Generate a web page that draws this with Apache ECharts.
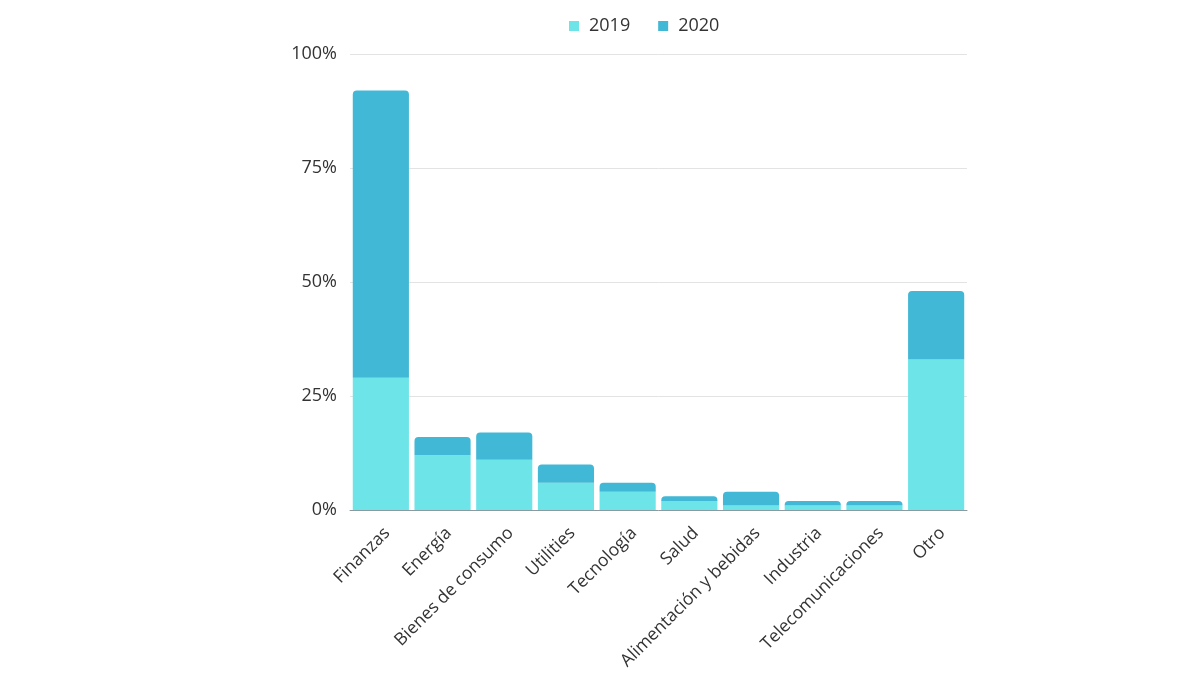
<!DOCTYPE html>
<html><head><meta charset="utf-8">
<script src="https://cdn.jsdelivr.net/npm/echarts@6/dist/echarts.min.js"></script>
<style>html,body{margin:0;padding:0;background:#fff}#c{width:1200px;height:675px}</style>
</head><body><div id="c"></div>
<script>
const categories = ["Finanzas","Energía","Bienes de consumo","Utilities","Tecnología","Salud","Alimentación y bebidas","Industria","Telecomunicaciones","Otro"];
const values2019 = [29, 12, 11, 6, 4, 2, 1, 1, 1, 33];
const values2020 = [63, 4, 6, 4, 2, 1, 3, 1, 1, 15];
const yTicks = [0, 25, 50, 75, 100];

const chart = echarts.init(document.getElementById('c'));
const font = '"Open Sans", "Noto Sans", sans-serif';
chart.setOption({
  animation: false,
  textStyle: { fontFamily: font },
  legend: {
    top: 12, left: 564,
    itemWidth: 10, itemHeight: 10, itemGap: 28,
    icon: 'rect',
    textStyle: { fontSize: 18, color: '#333', fontFamily: font, padding: [0, 0, 0, 5] },
    data: ['2019', '2020']
  },
  grid: { left: 350, right: 233, top: 54, bottom: 165, containLabel: false },
  xAxis: {
    type: 'category', data: categories,
    axisLine: { lineStyle: { color: '#8a9aa0', width: 1 } },
    axisTick: { show: false },
    axisLabel: { rotate: 45, fontSize: 17.5, color: '#333', fontFamily: font, margin: 14, interval: 0, verticalAlign: 'top' }
  },
  yAxis: {
    type: 'value', min: yTicks[0], max: yTicks[yTicks.length - 1], interval: 25,
    axisLine: { show: false }, axisTick: { show: false },
    splitLine: { lineStyle: { color: '#e3e3e3' } },
    axisLabel: { formatter: v => v + '%', fontSize: 18, color: '#333', fontFamily: font, margin: 13 }
  },
  series: [
    { name: '2019', type: 'bar', stack: 't', data: values2019, barCategoryGap: '9%',
      itemStyle: { color: '#6ce4e8' } },
    { name: '2020', type: 'bar', stack: 't', data: values2020, barCategoryGap: '9%',
      itemStyle: { color: '#41b8d5', borderRadius: [4, 4, 0, 0] } }
  ]
});
</script></body></html>
